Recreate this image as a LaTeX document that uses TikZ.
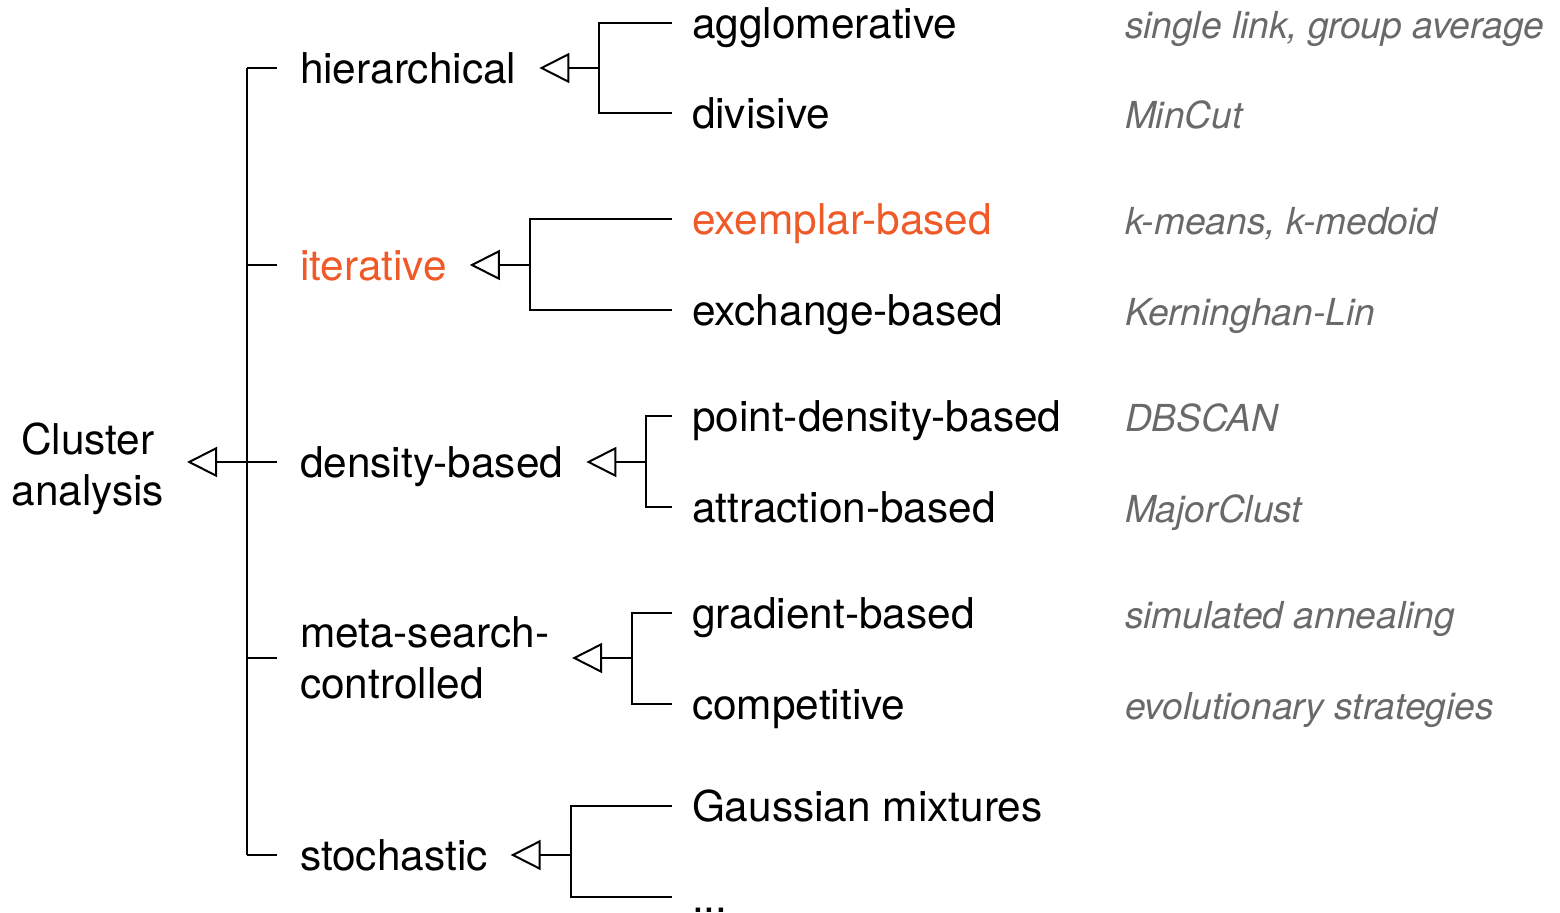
\documentclass[tikz,border=0pt]{standalone}
\usepackage{fontspec}
\setmainfont{TeX Gyre Heros}
\usepackage{tikz}
\usetikzlibrary{arrows.meta}
\usetikzlibrary{positioning}
\usetikzlibrary{calc}

\definecolor{hilite}{RGB}{240,90,40}
\definecolor{examplegray}{RGB}{105,105,105}

\begin{document}
\begin{tikzpicture}[x=0.5pt, y=-0.5pt, line width=1pt,
	base/.style={inner sep=0pt, outer sep=11.5pt, font=\fontsize{21.2}{25.5}\selectfont},
	cat/.style={base, anchor=west, text height=15.3pt, text depth=0pt},
	leaf/.style={cat, outer sep=10pt},
	ex/.style={anchor=west, inner sep=0pt, text height=13.4pt, text depth=0pt, text=examplegray, font=\fontsize{18.6}{22}\selectfont\itshape},
	isa/.style={-{Triangle[open, length=15pt, width=15pt]}}]
\useasboundingbox (0,0) rectangle (1560,913);
% trunk
\coordinate (top) at (247,68);
\coordinate (bot) at (247,855);
\coordinate (mid) at (247,462);
\draw (top) -- (bot);
\node[base, align=center, anchor=east, yshift=-3.5pt] (root) at (187,462) {Cluster\\analysis};
\draw[isa] (mid) -- (mid -| root.east);
% categories
\node[cat] (hier) at (277,68) {hierarchical};
\node[cat, text=hilite] (iter) at (277,265) {iterative};
\node[cat] (dens) at (277,462) {density-based};
\node[base, anchor=west, align=left] (meta) at (277,658) {meta-search-\\controlled};
\node[cat] (stoch) at (277,855) {stochastic};
\foreach \c in {hier, iter, dens, meta, stoch} {
	\draw (\c.west -| top) -- (\c.west);
	\coordinate[right=30pt of \c.east] (\c j);
	\draw[isa] (\c j) -- (\c);
};
% leaves
\node[leaf] (aggl) at (672,23) {agglomerative};
\node[leaf] (divi) at (672,113) {divisive};
\node[leaf, text=hilite] (exem) at (672,219) {exemplar-based};
\node[leaf] (exch) at (672,310) {exchange-based};
\node[leaf] (pden) at (672,416) {point-density-based};
\node[leaf] (attr) at (672,507) {attraction-based};
\node[leaf] (grad) at (672,613) {gradient-based};
\node[leaf] (comp) at (672,704) {competitive};
\node[leaf] (gaus) at (672,806) {Gaussian mixtures};
\node[leaf] (more) at (672,897) {...};
\draw (aggl.west) -| (hierj) |- (divi.west);
\draw (exem.west) -| (iterj) |- (exch.west);
\draw (pden.west) -| (densj) |- (attr.west);
\draw (grad.west) -| (metaj) |- (comp.west);
\draw (gaus.west) -| (stochj) |- (more.west);
% examples
\coordinate (excol) at (1124,0);
\foreach \l/\t in {aggl/{single link, group average}, divi/MinCut, exem/{k-means, k-medoid},
	exch/Kerninghan-Lin, pden/DBSCAN, attr/MajorClust, grad/simulated annealing,
	comp/evolutionary strategies} {
	\node[ex] (ex\l) at ($(\l.west -| excol)+(0,2)$) {\t};
};
\end{tikzpicture}
\end{document}
